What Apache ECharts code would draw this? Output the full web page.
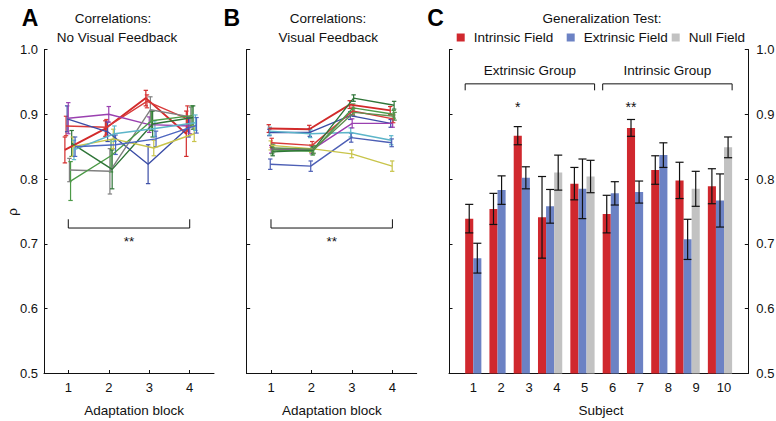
<!DOCTYPE html>
<html><head><meta charset="utf-8">
<script src="https://cdn.jsdelivr.net/npm/echarts@6/dist/echarts.min.js"></script>
<style>html,body{margin:0;padding:0;background:#fff}#c{width:776px;height:421px}</style>
</head><body><div id="c"></div>
<script>
// ---------- DATA ----------
const blocks = [1, 2, 3, 4];
const yTickValues = [0.5, 0.6, 0.7, 0.8, 0.9, 1.0];

// Panel A: correlations, no visual feedback (10 subjects x 4 blocks)
const noFeedbackMeans = [
  [0.845, 0.878, 0.925, 0.870],
  [0.882, 0.880, 0.920, 0.893],
  [0.893, 0.873, 0.823, 0.880],
  [0.894, 0.900, 0.884, 0.882],
  [0.814, 0.812, 0.907, 0.896],
  [0.797, 0.836, 0.890, 0.898],
  [0.855, 0.815, 0.885, 0.895],
  [0.850, 0.862, 0.848, 0.870],
  [0.845, 0.870, 0.878, 0.887],
  [0.850, 0.853, 0.862, 0.883]
];
const noFeedbackErrors = [
  [0.020, 0.012, 0.012, 0.035],
  [0.015, 0.012, 0.010, 0.020],
  [0.020, 0.015, 0.030, 0.015],
  [0.024, 0.012, 0.012, 0.012],
  [0.018, 0.035, 0.020, 0.015],
  [0.030, 0.025, 0.015, 0.015],
  [0.020, 0.030, 0.020, 0.018],
  [0.015, 0.015, 0.012, 0.012],
  [0.015, 0.012, 0.012, 0.012],
  [0.015, 0.015, 0.012, 0.012]
];
// Panel B: correlations, visual feedback
const feedbackMeans = [
  [0.878, 0.877, 0.915, 0.906],
  [0.872, 0.872, 0.898, 0.886],
  [0.874, 0.870, 0.872, 0.860],
  [0.823, 0.820, 0.864, 0.856],
  [0.852, 0.847, 0.839, 0.820],
  [0.846, 0.845, 0.886, 0.886],
  [0.856, 0.852, 0.905, 0.893],
  [0.845, 0.843, 0.910, 0.900],
  [0.842, 0.845, 0.925, 0.914],
  [0.848, 0.846, 0.903, 0.897]
];
const feedbackErrors = [
  [0.006, 0.006, 0.006, 0.006],
  [0.005, 0.006, 0.006, 0.006],
  [0.006, 0.006, 0.007, 0.007],
  [0.008, 0.008, 0.007, 0.006],
  [0.007, 0.006, 0.006, 0.008],
  [0.006, 0.006, 0.007, 0.006],
  [0.007, 0.006, 0.006, 0.006],
  [0.006, 0.006, 0.006, 0.006],
  [0.006, 0.006, 0.005, 0.006],
  [0.006, 0.006, 0.006, 0.006]
];

// Panel C: generalization test
const subjects = ['1', '2', '3', '4', '5', '6', '7', '8', '9', '10'];
const intrinsicField = [0.739, 0.754, 0.867, 0.741, 0.793, 0.746, 0.879, 0.814, 0.798, 0.789];
const intrinsicErr   = [0.022, 0.024, 0.014, 0.063, 0.025, 0.029, 0.013, 0.022, 0.028, 0.027];
const extrinsicField = [0.678, 0.783, 0.802, 0.758, 0.785, 0.778, 0.780, 0.837, 0.707, 0.767];
const extrinsicErr   = [0.023, 0.022, 0.017, 0.026, 0.046, 0.018, 0.017, 0.019, 0.031, 0.041];
const nullField      = [null, null, null, 0.810, 0.804, null, null, null, 0.785, 0.849];
const nullErr        = [null, null, null, 0.027, 0.025, null, null, null, 0.027, 0.016];
const fieldNames = ['Intrinsic Field', 'Extrinsic Field', 'Null Field'];
const groupNames = ['Extrinsic Group', 'Intrinsic Group'];
const groupSubjects = [[1, 5], [6, 10]];
const starSubjects = [3, 7];
const starLabels = ['*', '**'];

// ---------- STYLE ----------
const colorsA = ['#d22b2b', '#d83a3a', '#3b4da6', '#9a40b0', '#808080', '#4c9a47', '#2f7538', '#c8c44a', '#5cb5c9', '#4d66c0'];
const colorsB = ['#d22b2b', '#3b4da6', '#5cb5c9', '#4d5fb5', '#c8c44a', '#9a40b0', '#d83a3a', '#4c9a47', '#2f7538', '#5f8f4f'];
const barColors = ['#d0282e', '#6c82c4', '#c2c2c2'];
const ink = '#111';
const FONT = 'Liberation Sans, Arial, Helvetica, sans-serif';

const chart = echarts.init(document.getElementById('c'), null, {renderer: 'svg'});

function errRenderer(colors) {
  return function (params, api) {
    const x = api.value(0), v = api.value(1), e = api.value(2), ci = api.value(3);
    const t = api.coord([x, v + e]), b = api.coord([x, v - e]);
    const w = 2.2;
    const st = {stroke: colors[ci], lineWidth: 1.2};
    return {type: 'group', children: [
      {type: 'line', shape: {x1: t[0], y1: t[1], x2: b[0], y2: b[1]}, style: st},
      {type: 'line', shape: {x1: t[0] - w, y1: t[1], x2: t[0] + w, y2: t[1]}, style: st},
      {type: 'line', shape: {x1: b[0] - w, y1: b[1], x2: b[0] + w, y2: b[1]}, style: st}
    ]};
  };
}
function bracketRenderer(params, api) {
  const x1 = api.value(0), x2 = api.value(1), yl = api.value(2), yleg = api.value(3), yt = api.value(4);
  const txt = params.context.texts[params.dataIndex];
  const a = api.coord([x1, yleg]), b = api.coord([x1, yl]), c = api.coord([x2, yl]), d = api.coord([x2, yleg]);
  const m = api.coord([(x1 + x2) / 2, yt]);
  return {type: 'group', children: [
    {type: 'polyline', shape: {points: [a, b, c, d]}, style: {stroke: ink, lineWidth: 1, fill: null}},
    {type: 'text', x: m[0], y: m[1], style: {text: txt, align: 'center', verticalAlign: 'middle', font: '13.5px ' + FONT, fill: ink}}
  ]};
}

const series = [];
function linePanel(means, errs, colors, xi, jitterStep, jitterCenter) {
  const errData = [];
  means.forEach((row, i) => {
    const off = (i - jitterCenter) * jitterStep;
    row.forEach((v, j) => errData.push([blocks[j] + off, v, errs[i][j], i]));
  });
  series.push({type: 'custom', xAxisIndex: xi, yAxisIndex: xi, renderItem: errRenderer(colors), data: errData, silent: true, z: 2});
  means.forEach((row, i) => {
    const off = (i - jitterCenter) * jitterStep;
    series.push({
      type: 'line', xAxisIndex: xi, yAxisIndex: xi, showSymbol: false, symbol: 'none', silent: true,
      lineStyle: {color: colors[i], width: colors[i] === '#d22b2b' ? 1.9 : 1.4},
      data: row.map((v, j) => [blocks[j] + off, v]), z: 3
    });
  });
  const texts = ['**'];
  series.push({
    type: 'custom', xAxisIndex: xi, yAxisIndex: xi, silent: true,
    renderItem: (p, api) => { p.context.texts = texts; return bracketRenderer(p, api); },
    data: [[blocks[0], blocks[blocks.length - 1], 0.7245, 0.738, 0.704]]
  });
}
linePanel(noFeedbackMeans, noFeedbackErrors, colorsA, 0, 0.028, 3);
linePanel(feedbackMeans, feedbackErrors, colorsB, 1, 0.012, 4.5);

// ---- Panel C bar layout (in bar-width units) ----
const fields = [intrinsicField, extrinsicField, nullField];
const fieldErrs = [intrinsicErr, extrinsicErr, nullErr];
const barItems = [[], [], []];
const subjStart = [], subjEnd = [];
let u = 2;
subjects.forEach((s, i) => {
  subjStart.push(u);
  fields.forEach((f, k) => {
    if (f[i] != null) { barItems[k].push([u, f[i], fieldErrs[k][i]]); u += 1; }
  });
  subjEnd.push(u);
  u += 1;
});
const unitMax = u + 1;
const labFirst = subjStart[0] + 1, labLast = subjStart[subjects.length - 1] + 2;
const perSubj = (labLast - labFirst) / (subjects.length - 1);
const subjMin = 1 - labFirst / perSubj, subjMax = subjects.length + (unitMax - labLast) / perSubj;

function barRenderer(color) {
  return function (params, api) {
    const x0 = api.value(0), v = api.value(1), e = api.value(2);
    const p0 = api.coord([x0, v]), p1 = api.coord([x0 + 1, 0.5]);
    const xc = (p0[0] + p1[0]) / 2, w = (p1[0] - p0[0]) / 2;
    const yt = api.coord([x0, v + e])[1], yb = api.coord([x0, v - e])[1];
    const st = {stroke: ink, lineWidth: 1.2};
    return {type: 'group', children: [
      {type: 'rect', shape: {x: p0[0], y: p0[1], width: p1[0] - p0[0], height: p1[1] - p0[1]}, style: {fill: color}},
      {type: 'line', shape: {x1: xc, y1: yt, x2: xc, y2: yb}, style: st},
      {type: 'line', shape: {x1: xc - w, y1: yt, x2: xc + w, y2: yt}, style: st},
      {type: 'line', shape: {x1: xc - w, y1: yb, x2: xc + w, y2: yb}, style: st}
    ]};
  };
}
fields.forEach((f, k) => {
  series.push({
    type: 'custom', name: fieldNames[k], xAxisIndex: 2, yAxisIndex: 2, silent: true,
    color: barColors[k], itemStyle: {color: barColors[k]},
    renderItem: barRenderer(barColors[k]), data: barItems[k]
  });
});
series.push({
  type: 'custom', xAxisIndex: 2, yAxisIndex: 2, silent: true,
  renderItem: (p, api) => { p.context.texts = groupNames; return bracketRenderer(p, api); },
  data: groupSubjects.map(g => [subjStart[g[0] - 1], subjEnd[g[1] - 1], 0.947, 0.937, 0.968])
});
series.push({
  type: 'custom', xAxisIndex: 2, yAxisIndex: 2, silent: true,
  renderItem: (p, api) => {
    const c = api.coord([api.value(0), api.value(1)]);
    return {type: 'text', x: c[0], y: c[1], style: {text: starLabels[p.dataIndex], align: 'center', verticalAlign: 'middle', font: '14px ' + FONT, fill: ink}};
  },
  data: starSubjects.map(s => [subjStart[s - 1] + 0.5, 0.912])
});

const axisLine = {show: true, lineStyle: {color: ink, width: 1}};
const tick = {show: true, inside: true, length: 3.5, lineStyle: {color: ink, width: 1}};
const lab = {color: ink, fontSize: 13, fontFamily: FONT};
function yAx(gi, showLabel, position) {
  return {
    type: 'value', gridIndex: gi, min: 0.5, max: 1.0, interval: 0.1, position: position || 'left',
    axisLine: axisLine, axisTick: tick, splitLine: {show: false},
    axisLabel: Object.assign({show: showLabel, margin: position === 'right' ? 8 : 6, formatter: v => v.toFixed(1), customValues: yTickValues}, lab)
  };
}
function xBlocks(gi) {
  return {
    type: 'value', gridIndex: gi, position: 'bottom', min: 0.4, max: 4.6, axisLine: axisLine, splitLine: {show: false},
    axisTick: Object.assign({customValues: blocks}, tick),
    axisLabel: Object.assign({margin: 7, customValues: blocks, formatter: v => String(v)}, lab)
  };
}

const gridTop = 49.5, gridH = 324;
const txt = (x, y, s, extra) => ({type: 'text', x: x, y: y, style: Object.assign({text: s, font: '13.5px ' + FONT, fill: ink, align: 'center', verticalAlign: 'middle'}, extra || {})});
const option = {
  animation: false,
  backgroundColor: '#fff',
  textStyle: {fontFamily: FONT},
  grid: [
    {left: 44, top: gridTop, width: 170, height: gridH, outerBoundsMode: 'none'},
    {left: 246.7, top: gridTop, width: 170, height: gridH, outerBoundsMode: 'none'},
    {left: 449, top: gridTop, width: 299.3, height: gridH, outerBoundsMode: 'none'}
  ],
  xAxis: [
    xBlocks(0), xBlocks(1),
    {type: 'value', gridIndex: 2, position: 'top', min: 0, max: unitMax, show: false},
    {
      type: 'value', gridIndex: 2, position: 'bottom', min: subjMin, max: subjMax, axisLine: axisLine, splitLine: {show: false},
      axisTick: {show: false},
      axisLabel: Object.assign({margin: 7, customValues: subjects.map((s, i) => i + 1), formatter: v => subjects[Math.round(v) - 1]}, lab)
    }
  ],
  yAxis: [yAx(0, true), yAx(1, false), yAx(2, false), yAx(2, true, 'right')],
  legend: fieldNames.map((n, k) => ({
    data: [n], left: [456.7, 566.7, 671.7][k], top: 30.5, padding: 0,
    icon: 'rect', itemWidth: 8, itemHeight: 8, selectedMode: false,
    textStyle: {color: ink, fontSize: 13.5, fontFamily: FONT, padding: [0, 0, 0, 4]}
  })),
  graphic: [
    txt(30, 17.5, 'A', {font: 'bold 23px ' + FONT, fill: '#000'}),
    txt(231.7, 17.5, 'B', {font: 'bold 23px ' + FONT, fill: '#000'}),
    txt(435.5, 17.5, 'C', {font: 'bold 23px ' + FONT, fill: '#000'}),
    txt(113, 18, 'Correlations:'),
    txt(117, 37, 'No Visual Feedback'),
    txt(328, 18, 'Correlations:'),
    txt(328.3, 37, 'Visual Feedback'),
    txt(602, 18.5, 'Generalization Test:'),
    txt(134.2, 410, 'Adaptation block'),
    txt(331.8, 410, 'Adaptation block'),
    txt(601, 410, 'Subject'),
    Object.assign(txt(12, 212, 'ρ'), {rotation: Math.PI / 2})
  ],
  series: series
};
chart.setOption(option);
</script>
</body></html>
